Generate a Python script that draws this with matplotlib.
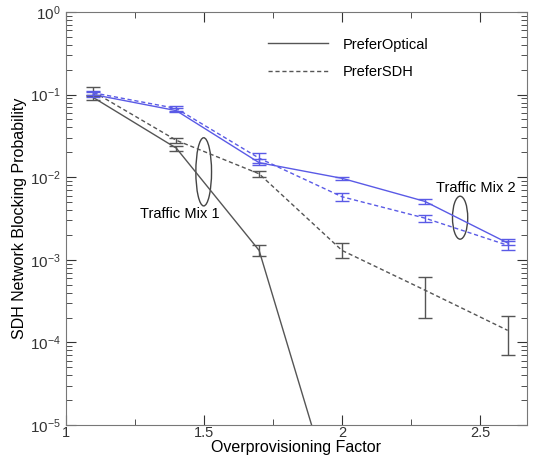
import matplotlib

matplotlib.use("Agg")
import matplotlib.pyplot as plt
from matplotlib.patches import Ellipse
from matplotlib.ticker import LogLocator, MultipleLocator, NullFormatter

plt.rcParams["font.family"] = ["Liberation Sans", "DejaVu Sans"]

# data
factor = [1.1, 1.4, 1.7, 2.0, 2.3, 2.6]

mix1_optical = [0.092, 0.0225, 0.0013, 6e-7]
mix1_optical_lo = [0.086, 0.021, 0.00110]
mix1_optical_hi = [0.100, 0.024, 0.00150]

mix1_sdh = [0.108, 0.028, 0.0110, 0.00130, 0.00043, 0.00014]
mix1_sdh_lo = [0.095, 0.026, 0.0100, 0.00105, 0.00020, 0.00007]
mix1_sdh_hi = [0.125, 0.030, 0.0120, 0.00160, 0.00062, 0.00021]

mix2_optical = [0.100, 0.064, 0.0150, 0.0097, 0.0051, 0.0016]
mix2_optical_lo = [0.094, 0.061, 0.0140, 0.0093, 0.0048, 0.0015]
mix2_optical_hi = [0.107, 0.068, 0.0165, 0.0101, 0.0054, 0.0018]

mix2_sdh = [0.105, 0.068, 0.0170, 0.0058, 0.0032, 0.0015]
mix2_sdh_lo = [0.099, 0.064, 0.0150, 0.0052, 0.0029, 0.0013]
mix2_sdh_hi = [0.112, 0.072, 0.0195, 0.0064, 0.0035, 0.0017]

GRAY = "#555555"
BLUE = "#5a5ae6"


def errs(vals, lo, hi):
    n = len(lo)
    return [[v - l for v, l in zip(vals[:n], lo)], [h - v for v, h in zip(vals[:n], hi)]]


fig = plt.figure(figsize=(5.35, 4.61), dpi=100)
ax = fig.add_axes([0.123, 0.078, 0.862, 0.896])

# lines
ax.plot(factor[:len(mix1_optical)], mix1_optical, "-", color=GRAY, lw=1.0, label="PreferOptical")
ax.plot(factor, mix1_sdh, "--", color=GRAY, lw=1.0, dashes=(3, 2), label="PreferSDH")
ax.plot(factor, mix2_optical, "-", color=BLUE, lw=1.0)
ax.plot(factor, mix2_sdh, "--", color=BLUE, lw=1.0, dashes=(3, 2))

# error bars
n1 = len(mix1_optical_lo)
ax.errorbar(factor[:n1], mix1_optical[:n1], yerr=errs(mix1_optical, mix1_optical_lo, mix1_optical_hi),
            fmt="none", ecolor=GRAY, elinewidth=1.0, capsize=5, capthick=1.0)
ax.errorbar(factor, mix1_sdh, yerr=errs(mix1_sdh, mix1_sdh_lo, mix1_sdh_hi),
            fmt="none", ecolor=GRAY, elinewidth=1.0, capsize=5, capthick=1.0)
ax.errorbar(factor, mix2_optical, yerr=errs(mix2_optical, mix2_optical_lo, mix2_optical_hi),
            fmt="none", ecolor=BLUE, elinewidth=1.0, capsize=5, capthick=1.0)
ax.errorbar(factor, mix2_sdh, yerr=errs(mix2_sdh, mix2_sdh_lo, mix2_sdh_hi),
            fmt="none", ecolor=BLUE, elinewidth=1.0, capsize=5, capthick=1.0)

ax.set_yscale("log")
ax.set_xlim(1, 2.67)
ax.set_ylim(1e-5, 1)
ax.xaxis.set_major_locator(MultipleLocator(0.5))
ax.xaxis.set_minor_locator(MultipleLocator(0.25))
ax.set_xticks([1, 1.5, 2, 2.5])
ax.set_xticklabels(["1", "1.5", "2", "2.5"])
ax.yaxis.set_major_locator(LogLocator(base=10, numticks=10))
ax.yaxis.set_minor_locator(LogLocator(base=10, subs=range(2, 10), numticks=10))
ax.yaxis.set_minor_formatter(NullFormatter())

ax.tick_params(which="both", direction="in", top=True, right=True, colors="#333333", labelsize=11)
ax.tick_params(which="major", length=7)
ax.tick_params(which="minor", length=4)
ax.tick_params(axis="x", pad=1, labelsize=10.5)
for sp in ax.spines.values():
    sp.set_color("#777777")

ax.set_xlabel("Overprovisioning Factor", fontsize=11.5, labelpad=0)
ax.set_ylabel("SDH Network Blocking Probability", fontsize=11.5, labelpad=2)

# ellipses marking the traffic mixes
ax.add_patch(Ellipse((0.299, 0.613), 0.034, 0.165, transform=ax.transAxes,
                     fill=False, edgecolor="#444444", lw=1.0))
ax.add_patch(Ellipse((0.855, 0.502), 0.033, 0.104, transform=ax.transAxes,
                     fill=False, edgecolor="#444444", lw=1.0))
ax.text(0.247, 0.51, "Traffic Mix 1", transform=ax.transAxes, ha="center", va="center", fontsize=10.5)
ax.text(0.89, 0.575, "Traffic Mix 2", transform=ax.transAxes, ha="center", va="center", fontsize=10.5)

ax.legend(loc="upper right", bbox_to_anchor=(0.815, 0.97), frameon=False, fontsize=10.5,
          handlelength=4.1, handletextpad=1.0, labelspacing=0.9)

fig.savefig("out.png", dpi=100)
